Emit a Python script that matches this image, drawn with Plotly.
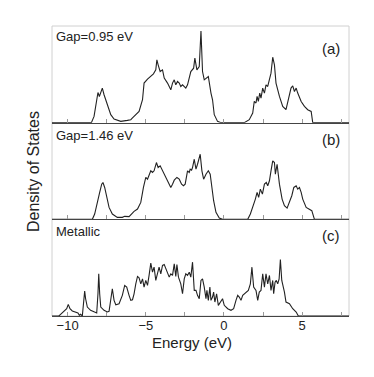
import plotly.graph_objects as go
from plotly.subplots import make_subplots

# (a) Gap = 0.95 eV
energy_a = [-11.0, -8.48, -8.31, -8.14, -8.06, -7.97, -7.88, -7.78, -7.67, -7.56, -7.46, -7.24, -7.03,
            -6.60, -6.18, -5.96, -5.85, -5.64, -5.43, -5.21, -5.11, -4.89, -4.68, -4.51, -4.36, -4.29,
            -4.21, -4.08, -3.93, -3.82, -3.61, -3.40, -3.29, -3.18, -3.08, -2.97, -2.86, -2.76, -2.65,
            -2.44, -2.33, -2.12, -1.94, -1.86, -1.73, -1.58, -1.47, -1.37, -1.26, -1.11, -1.00, -0.83,
            -0.73, -0.62, -0.41, -0.19, 1.30, 1.62, 1.84, 1.94, 2.05, 2.12, 2.20, 2.29, 2.37, 2.48,
            2.59, 2.69, 2.80, 3.01, 3.12, 3.23, 3.33, 3.55, 3.76, 3.97, 4.12, 4.29, 4.40, 4.51, 4.62,
            4.72, 4.94, 5.15, 5.36, 5.58, 5.68, 8.0]
dos_a = [0, 0, 6.3, 21.3, 30.3, 26.3, 31.3, 34.7, 28, 23, 16.3, 8, 3.7,
         1.3, 2.3, 3, 4.7, 8, 11.3, 23, 39.7, 43.7, 46.3, 49, 53, 63,
         58, 51.3, 53, 44.7, 39.7, 33, 39.7, 43, 38, 41.3, 39.7, 36.3, 38,
         34.7, 38, 51.3, 54.7, 64.7, 53, 56.3, 92, 51.3, 43, 44.7, 46.3, 29.7,
         23, 8, 1.3, 0, 0, 3, 9.7, 21.3, 19.7, 26.3, 21.3, 29.7, 24.7, 34.7,
         29.7, 38, 36.3, 49.7, 65.7, 58, 39.7, 26.3, 16.3, 13, 23, 34.7, 37, 31.3, 34.7,
         29.7, 21.3, 16.3, 13, 11.3, 0, 0]

# (b) Gap = 1.46 eV
energy_b = [-11.0, -8.42, -8.27, -8.10, -7.95, -7.82, -7.74, -7.63, -7.50, -7.35, -7.14, -6.82, -6.50,
            -6.35, -6.07, -5.92, -5.75, -5.53, -5.32, -5.15, -5.00, -4.89, -4.79, -4.68, -4.57, -4.47,
            -4.32, -4.21, -4.08, -3.93, -3.82, -3.72, -3.61, -3.50, -3.40, -3.29, -3.18, -3.01, -2.86,
            -2.71, -2.59, -2.48, -2.33, -2.22, -2.16, -2.07, -2.01, -1.90, -1.79, -1.69, -1.58, -1.52,
            -1.41, -1.30, -1.15, -1.00, -0.88, -0.79, -0.66, -0.51, -0.30, -0.09, 1.52, 1.69, 1.84,
            2.01, 2.12, 2.22, 2.33, 2.46, 2.59, 2.71, 2.80, 2.91, 3.01, 3.12, 3.23, 3.29, 3.40, 3.55,
            3.72, 3.87, 4.04, 4.19, 4.34, 4.47, 4.62, 4.72, 4.83, 4.94, 5.04, 5.26, 5.47, 5.62, 5.79, 8.0]
dos_b = [0, 0, 5.3, 15.3, 27, 35.3, 37, 32, 22, 12, 5.3, 2, 2,
         3, 2.7, 5.3, 8, 10.3, 17, 32, 42, 40.3, 45.3, 48.7, 47, 48.7,
         57, 52, 53.7, 48.7, 45.3, 42, 38.7, 35.3, 32, 35.3, 39.3, 42, 40.3,
         35.3, 33.7, 35.3, 48.7, 47, 50.3, 49.3, 52, 60.3, 50.3, 55.3, 62, 65.3,
         48.7, 40.3, 45.3, 48.7, 45.3, 32, 18.7, 7, 1.3, 0, 0, 5.3, 12,
         20.3, 27, 22, 30.3, 25.3, 35.3, 37, 33.7, 38.7, 48.7, 58.7, 57, 45.3, 55.3, 35.3,
         20.3, 13.7, 11.3, 17, 23.7, 32, 33.7, 30.3, 32, 27, 20.3, 12, 10.3, 8.7, 0, 0]

# (c) Metallic
energy_c = [-11.0, -10.56, -10.45, -10.24, -10.06, -9.96, -9.85, -9.70, -9.49, -9.34, -9.25, -9.17, -9.06,
            -9.00, -8.91, -8.85, -8.74, -8.53, -8.31, -8.14, -8.06, -8.01, -7.95, -7.88, -7.67, -7.46,
            -7.35, -7.24, -7.14, -7.03, -6.92, -6.71, -6.50, -6.35, -6.22, -6.07, -5.96, -5.85, -5.75,
            -5.64, -5.53, -5.43, -5.32, -5.21, -5.11, -5.00, -4.89, -4.79, -4.68, -4.57, -4.47, -4.36,
            -4.25, -4.15, -4.04, -3.93, -3.82, -3.72, -3.61, -3.50, -3.40, -3.29, -3.18, -3.08, -3.01,
            -2.91, -2.76, -2.65, -2.54, -2.44, -2.33, -2.22, -2.12, -2.01, -1.90, -1.79, -1.69, -1.58,
            -1.47, -1.37, -1.26, -1.15, -1.09, -1.00, -0.90, -0.83, -0.73, -0.66, -0.58, -0.47, -0.36,
            -0.19, -0.09, 0.02, 0.24, 0.45, 0.62, 0.77, 0.88, 0.98, 1.09, 1.20, 1.30, 1.47, 1.56,
            1.69, 1.79, 1.90, 2.05, 2.16, 2.26, 2.37, 2.48, 2.59, 2.69, 2.80, 2.91, 3.01, 3.12, 3.18,
            3.27, 3.35, 3.44, 3.53, 3.61, 3.70, 3.76, 3.87, 3.97, 4.19, 4.40, 4.62, 4.76, 8.0]
dos_c = [0, 0, 1.7, 5, 7.3, 11.7, 7.3, 5, 4, 3, 0.7, 1.7, 0,
         9, 25, 17.3, 9, 5.7, 4, 3, 22.3, 42.3, 22.3, 9, 5.7, 4,
         4.7, 15.7, 27.3, 15.7, 11.3, 12.3, 20.7, 30.7, 29, 20.7, 15.7, 16.3, 22.3,
         32.3, 39.7, 38.3, 32.3, 37.3, 29, 35.7, 30.7, 40.7, 53, 44, 49, 35.7,
         44, 49, 42.3, 50.7, 51.7, 47.3, 44, 39, 42.3, 40.7, 52.3, 39.7, 51.7,
         39, 32.3, 22.3, 37.3, 42.3, 40.7, 44, 39, 54, 25.7, 25.7, 20.7, 17.3,
         35.7, 37.3, 29, 17.3, 25.7, 15.7, 29, 15.7, 19, 24, 14, 22.3, 10.7,
         15.7, 17.3, 10.7, 7.3, 5.7, 7.3, 15.7, 20.7, 19, 15.7, 20.7, 22.3, 24, 25.7,
         32.3, 49, 29, 25.7, 15.7, 24, 25.7, 42.3, 29, 42.3, 32.3, 40.7, 25.7, 35.7, 22.3,
         34, 35.7, 32.3, 37.3, 56.7, 35.7, 32.3, 24, 14, 12.3, 7.3, 4, 0, 0]

fig = make_subplots(rows=3, cols=1, shared_xaxes=True, vertical_spacing=0)

for i, (e, d) in enumerate([(energy_a, dos_a), (energy_b, dos_b), (energy_c, dos_c)]):
    fig.add_trace(go.Scatter(x=e, y=d, mode="lines", line=dict(color="#222", width=1.1),
                             showlegend=False), row=i + 1, col=1)

for r in range(1, 4):
    fig.update_xaxes(range=[-11, 8], showline=True, linecolor="#444", linewidth=1,
                     ticks="inside", ticklen=4, tickcolor="#999", dtick=5, tick0=0,
                     minor=dict(dtick=2.5, tick0=0, ticks="inside", ticklen=4, tickcolor="#999"),
                     showgrid=False, zeroline=False, row=r, col=1)
    fig.update_yaxes(range=[0, 97], showticklabels=False, showgrid=False, zeroline=False,
                     showline=False, ticks="", row=r, col=1)

fig.update_xaxes(showticklabels=True, tickfont=dict(size=13, color="#222"),
                 ticklabelstandoff=-3, row=3, col=1)

# light frame around the whole plot area
fig.add_shape(type="rect", xref="paper", yref="paper", x0=0, x1=1, y0=0, y1=1,
              line=dict(color="#d0d0d0", width=1), layer="below")

font = "Liberation Sans, Arial, sans-serif"
labels = [("Gap=0.95 eV", 0.963), ("Gap=1.46 eV", 0.624), ("Metallic", 0.291)]
for text, y in labels:
    fig.add_annotation(x=0.007, y=y, xref="paper", yref="paper", text=text, showarrow=False,
                       xanchor="left", yanchor="middle", font=dict(size=13, color="#222"))
tags = [("(a)", 0.923), ("(b)", 0.609), ("(c)", 0.279)]
for text, y in tags:
    fig.add_annotation(x=0.976, y=y, xref="paper", yref="paper", text=text, showarrow=False,
                       xanchor="right", yanchor="middle", font=dict(size=15, color="#222"))

fig.add_annotation(x=0.47, y=-0.09, xref="paper", yref="paper", text="Energy (eV)",
                   showarrow=False, xanchor="center", yanchor="middle",
                   font=dict(size=15, color="#222"))
fig.add_annotation(x=-0.064, y=0.5, xref="paper", yref="paper", text="Density of States",
                   showarrow=False, textangle=-90, xanchor="center", yanchor="middle",
                   font=dict(size=16, color="#222"))

# page body adds an 8px offset, so the figure is drawn slightly smaller
fig.update_layout(width=366, height=369, margin=dict(l=44, r=25, t=18, b=61),
                  plot_bgcolor="white", paper_bgcolor="white",
                  font=dict(family=font, color="#222"))

fig.write_html("out.html")
